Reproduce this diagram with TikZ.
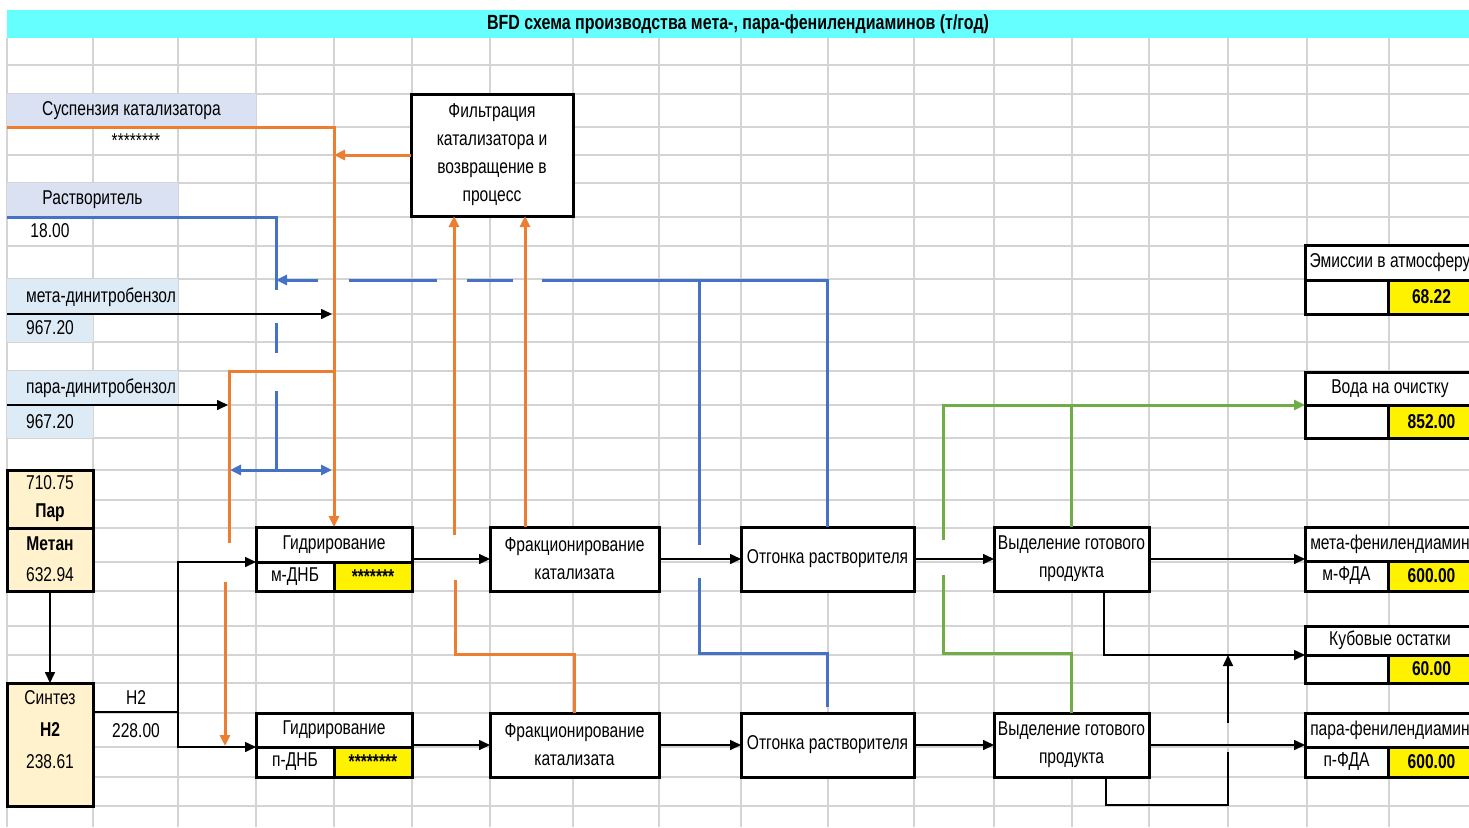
\documentclass[tikz,border=0pt]{standalone}
\usepackage{fontspec}
\setmainfont{Liberation Sans}[FakeStretch=0.78]
\usetikzlibrary{arrows.meta}

\definecolor{titlecyan}{HTML}{66FFFF}
\definecolor{lav}{HTML}{D9E1F2}
\definecolor{lblue}{HTML}{DDEBF7}
\definecolor{steam}{HTML}{FFF2CC}
\definecolor{gridgray}{HTML}{D4D4D4}
\definecolor{orangeline}{HTML}{ED7D31}
\definecolor{blueline}{HTML}{4472C4}
\definecolor{greenline}{HTML}{70AD47}

\begin{document}
\begin{tikzpicture}[x=1pt,y=-1pt,
  font=\fontsize{20}{28}\selectfont,
  >={Triangle[length=11pt,width=10pt]},
  cellbox/.style 2 args={draw=black, line width=3pt, fill=white, inner sep=0pt, outer sep=0pt,
    anchor=north west, minimum width=#1, minimum height=#2},
  outer/.style 2 args={inner sep=0pt, outer sep=0pt, anchor=north west, minimum width=#1, minimum height=#2},
  lab/.style 2 args={inner sep=0pt, outer sep=0pt, anchor=north west, minimum width=#1, minimum height=#2},
  val/.style={fill=yellow, font=\bfseries\fontsize{20}{28}\selectfont},
  arr/.style={->, line width=1.6pt},
  plain/.style={line width=1.6pt},
  orl/.style={draw=orangeline, line width=3pt},
  bll/.style={draw=blueline, line width=3pt},
  grl/.style={draw=greenline, line width=3pt}]
  \useasboundingbox (0,0) rectangle (1469,827);

  % sheet grid
  \foreach \gx in {7,93,178,256,334,412,490,573,659,741,828,914,994,1072,1149,1228,1307,1389}
    \draw[gridgray, line width=1.2pt] (\gx,38) -- (\gx,827);
  \foreach \gy in {65,94,127,155,183,217,246,279,314,342,371,405,438,470,500,528,562,591,626,655,683,713,747,777,806}
    \draw[gridgray, line width=1.2pt] (7,\gy) -- (1469,\gy);

  \node[lab={1462pt}{28pt}, fill=titlecyan, font=\bfseries\fontsize{20.5}{24}\selectfont] (title) at (7,10)
    {BFD схема производства мета-, пара-фенилендиаминов (т/год)};

  % inputs
  \node[lab={249pt}{33pt}, fill=lav] (susp) at (7,94) {Суспензия катализатора};
  \node (suspval) at (136,141) {********};
  \node[lab={171pt}{34pt}, fill=lav] (solv) at (7,183) {Растворитель};
  \node (solvval) at (50,231) {18.00};
  \node[lab={171pt}{35pt}, fill=lblue] (meta) at (7,279) {};
  \node (metatxt) at (101,297) {мета-динитробензол};
  \node[lab={86pt}{28pt}, fill=lblue] (metaval) at (7,314) {967.20};
  \node[lab={171pt}{34pt}, fill=lblue] (para) at (7,371) {};
  \node (paratxt) at (101,388) {пара-динитробензол};
  \node[lab={86pt}{33pt}, fill=lblue] (paraval) at (7,405) {967.20};

  \node[cellbox={86pt}{58pt}, fill=steam, align=center] (steam) at (7,470) {710.75\\\textbf{Пар}};
  \node[cellbox={86pt}{63pt}, fill=steam, align=center] (methane) at (7,528) {\textbf{Метан}\\[3pt]632.94};
  \node[cellbox={86pt}{123pt}, fill=steam] (synth) at (7,683) {};
  \node[align=center, font=\fontsize{20}{32}\selectfont] (synthtxt) at (50,730) {Синтез\\\textbf{H2}\\238.61};
  \node (h2lab) at (136,698) {H2};
  \node (h2val) at (136,731) {228.00};

  % process blocks
  \node[cellbox={162pt}{122pt}, align=center] (filt) at (411,94)
    {Фильтрация\\катализатора и\\возвращение в\\процесс};

  \node[outer={156pt}{64pt}] (hydA) at (256,527) {};
  \node[cellbox={156pt}{35pt}] (hydAt) at (256,527) {Гидрирование};
  \node[cellbox={78pt}{29pt}] (hydAm) at (256,562) {м-ДНБ};
  \node[cellbox={78pt}{29pt}, val] (hydAv) at (334,562) {*******};
  \node[outer={156pt}{64pt}] (hydB) at (256,713) {};
  \node[cellbox={156pt}{34pt}] (hydBt) at (256,713) {Гидрирование};
  \node[cellbox={78pt}{30pt}] (hydBm) at (256,747) {п-ДНБ};
  \node[cellbox={78pt}{30pt}, val] (hydBv) at (334,747) {********};

  \node[cellbox={169pt}{64pt}, align=center] (fracA) at (490,527) {Фракционирование\\катализата};
  \node[cellbox={169pt}{64pt}, align=center] (fracB) at (490,713) {Фракционирование\\катализата};
  \node[cellbox={173pt}{64pt}] (strpA) at (741,527) {Отгонка растворителя};
  \node[cellbox={173pt}{64pt}] (strpB) at (741,713) {Отгонка растворителя};
  \node[cellbox={155pt}{64pt}, align=center] (sepA) at (994,527) {Выделение готового\\продукта};
  \node[cellbox={155pt}{64pt}, align=center] (sepB) at (994,713) {Выделение готового\\продукта};

  % outputs
  \node[cellbox={170pt}{35pt}] (emis) at (1305,245) {Эмиссии в атмосферу};
  \node[cellbox={83pt}{34pt}] (emism) at (1305,280) {};
  \node[cellbox={87pt}{34pt}, val] (emisv) at (1388,280) {68.22};
  \node[cellbox={170pt}{33pt}] (water) at (1305,372) {Вода на очистку};
  \node[cellbox={83pt}{33pt}] (waterm) at (1305,405) {};
  \node[cellbox={87pt}{33pt}, val] (waterv) at (1388,405) {852.00};
  \node[cellbox={170pt}{34pt}] (mpda) at (1305,527) {мета-фенилендиамин};
  \node[cellbox={83pt}{30pt}] (mpdam) at (1305,561) {м-ФДА};
  \node[cellbox={87pt}{30pt}, val] (mpdav) at (1388,561) {600.00};
  \node[cellbox={170pt}{29pt}] (resid) at (1305,626) {Кубовые остатки};
  \node[cellbox={83pt}{28pt}] (residm) at (1305,655) {};
  \node[cellbox={87pt}{28pt}, val] (residv) at (1388,655) {60.00};
  \node[cellbox={170pt}{34pt}] (ppda) at (1305,713) {пара-фенилендиамин};
  \node[cellbox={83pt}{30pt}] (ppdam) at (1305,747) {п-ФДА};
  \node[cellbox={87pt}{30pt}, val] (ppdav) at (1388,747) {600.00};

  % bends and free ends
  \coordinate (oL) at (229,371);
  \coordinate (oLe) at (229,543);
  \coordinate (oLs) at (225,582);
  \coordinate (oLt) at (225,746);
  \coordinate (oA) at (454,535);
  \coordinate (oB) at (525,527);
  \coordinate (oC) at (455,580);
  \coordinate (oD) at (455,654);
  \coordinate (bA) at (276,290);
  \coordinate (bB) at (276,323);
  \coordinate (bC) at (276,353);
  \coordinate (bD) at (276,391);
  \coordinate (bE) at (276,470);
  \coordinate (bL) at (230,470);
  \coordinate (bR) at (332,470);
  \coordinate (bF) at (542,280);
  \coordinate (bG) at (513,280);
  \coordinate (bH) at (467,280);
  \coordinate (bI) at (437,280);
  \coordinate (bJ) at (349,280);
  \coordinate (bK) at (318,280);
  \coordinate (bM) at (276,280);
  \coordinate (bN) at (699,280);
  \coordinate (bO) at (699,545);
  \coordinate (bP) at (699,578);
  \coordinate (bQ) at (699,653);
  \coordinate (bS) at (827,707);
  \coordinate (gA) at (943,540);
  \coordinate (gC) at (943,575);
  \coordinate (gD) at (943,653);
  \coordinate (mA) at (332,314);
  \coordinate (pA) at (228,405);
  \coordinate (hJ) at (178,712);
  \coordinate (kA) at (1104,591);
  \coordinate (kB) at (1106,777);
  \coordinate (kC) at (1106,805);
  \coordinate (kD) at (1228,752);
  \coordinate (kE) at (1228,723);

  % catalyst (orange)
  \draw[orl,->] (susp.south west) -| (hydAt.north);
  \draw[orl,->] (filt.west) -- (filt.west -| hydAt.north);
  \draw[orl] (hydAt.north |- oL) -- (oL) -- (oLe);
  \draw[orl,->] (oLs) -- (oLt);
  \draw[orl,->] (oA) -- (oA |- filt.south);
  \draw[orl,->] (oB) -- (oB |- filt.south);
  \draw[orl] (oC) -- (oD) -| (fracB.north);

  % solvent (blue)
  \draw[bll] (solv.south west) -| (bA);
  \draw[bll] (bB) -- (bC);
  \draw[bll] (bD) -- (bE);
  \draw[bll,<->] (bL) -- (bR);
  \draw[bll] (strpA.north) -- (strpA.north |- bF) -- (bF);
  \draw[bll] (bG) -- (bH);
  \draw[bll] (bI) -- (bJ);
  \draw[bll,->] (bK) -- (bM);
  \draw[bll] (bN) -- (bO);
  \draw[bll] (bP) -- (bQ) -| (bS);

  % water (green)
  \draw[grl,->] (gA) |- (water.south west);
  \draw[grl] (sepA.north) -- (sepA.north |- water.south west);
  \draw[grl] (gC) -- (gD) -| (sepB.north);

  % main flow
  \draw[arr] (meta.south west) -- (mA);
  \draw[arr] (para.south west) -- (pA);
  \draw[arr] (methane.south) -- (synth.north);
  \draw[plain] (synth.east |- hJ) -- (hJ);
  \draw[arr] (hJ) |- (hydAt.south west);
  \draw[arr] (hJ) |- (hydBt.south west);
  \draw[arr] (hydA.east) -- (fracA.west);
  \draw[arr] (hydB.east) -- (fracB.west);
  \draw[arr] (fracA.east) -- (strpA.west);
  \draw[arr] (fracB.east) -- (strpB.west);
  \draw[arr] (strpA.east) -- (sepA.west);
  \draw[arr] (strpB.east) -- (sepB.west);
  \draw[arr] (sepA.east) -- (sepA.east -| mpda.west);
  \draw[arr] (sepB.east) -- (sepB.east -| ppda.west);
  \draw[arr] (kA) |- (resid.south west);
  \draw[plain] (kB) -- (kC) -| (kD);
  \draw[arr] (kE) -- (kE |- resid.south west);
\end{tikzpicture}
\end{document}
